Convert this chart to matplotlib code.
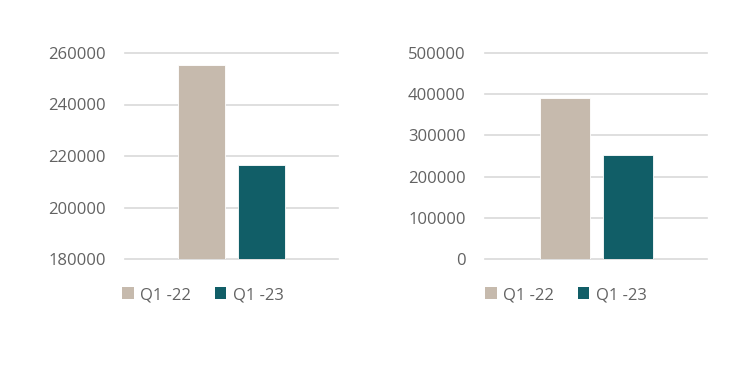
import matplotlib
matplotlib.use("Agg")
import matplotlib.pyplot as plt
from matplotlib.patches import Patch

# data
series = ["Q1 -22", "Q1 -23"]
left_values = [255500, 216500]
right_values = [391500, 252000]
left_ticks = [180000, 200000, 220000, 240000, 260000]
right_ticks = [0, 100000, 200000, 300000, 400000, 500000]

colors = ["#C6BAAD", "#115E67"]
text_color = "#626262"
grid_color = "#D9D9D9"

plt.rcParams['font.family'] = ['Open Sans', 'DejaVu Sans']

fig = plt.figure(figsize=(7.46, 3.73), dpi=100)

def draw(ax, values, ticks, width, legend_x):
    ax.bar([0, 1], [v - ticks[0] for v in values], bottom=ticks[0], width=width,
           color=colors, edgecolor="white", linewidth=0.6, zorder=3)
    ax.set_ylim(ticks[0], ticks[-1])
    ax.set_xlim(-1.265, 2.257)
    ax.set_yticks(ticks)
    ax.set_yticklabels([str(t) for t in ticks])
    ax.set_xticks([])
    ax.yaxis.grid(True, color=grid_color, linewidth=1.2, zorder=0)
    for gl in ax.get_ygridlines():
        gl.set_clip_on(False)
    for s in ax.spines.values():
        s.set_visible(False)
    ax.tick_params(axis="y", length=0, pad=14, labelsize=12, labelcolor=text_color)
    handles = [Patch(facecolor=c, edgecolor="none") for c in colors]
    fig.legend(handles, series, loc="center left",
               bbox_to_anchor=(legend_x, 1 - 295 / 373), ncol=2, frameon=False,
               fontsize=12, labelcolor=text_color, handlelength=0.7,
               handleheight=0.7, handletextpad=0.4, columnspacing=1.4,
               borderpad=0, borderaxespad=0)

ax1 = fig.add_axes([125 / 746, 1 - 259 / 373, 213 / 746, 206 / 373])
draw(ax1, left_values, left_ticks, 0.777, 122 / 746)

ax2 = fig.add_axes([485 / 746, 1 - 259 / 373, 222 / 746, 206 / 373])
draw(ax2, right_values, right_ticks, 0.794, 485 / 746)

fig.savefig("out.png", dpi=100)
